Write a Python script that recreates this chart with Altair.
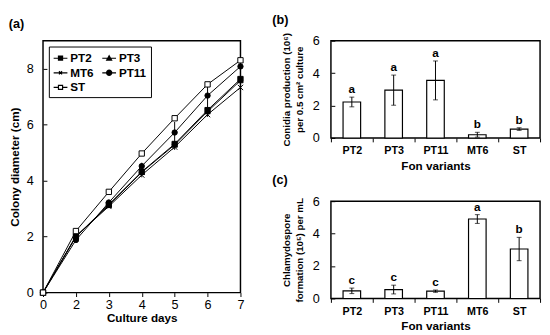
import altair as alt
import pandas as pd

FONT = "Liberation Sans"

# ---------------- Panel (a) data ----------------
days = [0, 2, 3, 4, 5, 6, 7]
series = ["PT2", "PT3", "MT6", "PT11", "ST"]
pt2 = [0, 2.00, 3.15, 4.32, 5.31, 6.52, 7.63]
pt3 = [0, 2.00, 3.12, 4.30, 5.28, 6.47, 7.58]
mt6 = [0, 2.02, 3.08, 4.20, 5.20, 6.36, 7.33]
pt11 = [0, 1.88, 3.22, 4.52, 5.72, 7.04, 8.08]
st = [0, 2.20, 3.60, 4.97, 6.23, 7.44, 8.30]
pt2_err = [0, 0.03, 0.05, 0.08, 0.10, 0.10, 0.08]
pt3_err = [0, 0.03, 0.05, 0.08, 0.12, 0.10, 0.08]
mt6_err = [0, 0.03, 0.05, 0.08, 0.10, 0.08, 0.08]
pt11_err = [0, 0.05, 0.08, 0.12, 0.38, 0.45, 0.10]
st_err = [0, 0.03, 0.05, 0.05, 0.05, 0.05, 0.05]

vals = {"PT2": pt2, "PT3": pt3, "MT6": mt6, "PT11": pt11, "ST": st}
errs = {"PT2": pt2_err, "PT3": pt3_err, "MT6": mt6_err, "PT11": pt11_err, "ST": st_err}
rows = []
for s in series:
    for d, v, e in zip(days, vals[s], errs[s]):
        rows.append({"day": d, "series": s, "value": v, "lo": v - e, "hi": v + e})
dfa = pd.DataFrame(rows)

# ---------------- Panels (b),(c) data ----------------
variants = ["PT2", "PT3", "PT11", "MT6", "ST"]
conidia = [2.22, 2.95, 3.55, 0.20, 0.55]
conidia_err = [0.30, 0.93, 1.20, 0.15, 0.08]
conidia_grp = ["a", "a", "a", "b", "b"]
chlamy = [0.47, 0.55, 0.45, 4.90, 3.05]
chlamy_err = [0.17, 0.27, 0.07, 0.27, 0.72]
chlamy_grp = ["c", "c", "c", "a", "b"]

dfb = pd.DataFrame({"variant": variants, "value": conidia, "err": conidia_err, "grp": conidia_grp})
dfb["lo"] = dfb["value"] - dfb["err"]
dfb["hi"] = dfb["value"] + dfb["err"]
dfc = pd.DataFrame({"variant": variants, "value": chlamy, "err": chlamy_err, "grp": chlamy_grp})
dfc["lo"] = dfc["value"] - dfc["err"]
dfc["hi"] = dfc["value"] + dfc["err"]

# ---------------- Panel (a) ----------------
xa_axis = alt.Axis(title="Culture days", labelAngle=0, labelFontSize=13, labelPadding=2,
                   tickSize=4, domain=False, titleFontSize=12, titleFontWeight="bold",
                   titlePadding=2)
xa_scale = alt.Scale(type="point", padding=0)
ya_scale = alt.Scale(domain=[0, 9], nice=False)
ya_axis = alt.Axis(title="Colony diameter (cm)", values=[0, 2, 4, 6, 8], labelFontSize=13,
                   tickSize=4, offset=-4, labelPadding=10, domain=False, grid=False,
                   labelOverlap=False,
                   titleFontSize=12, titleFontWeight="bold", titlePadding=5)


def xa(field="day:O"):
    return alt.X(field, scale=xa_scale, axis=xa_axis)


def ya(field):
    return alt.Y(field, scale=ya_scale, axis=ya_axis)


base_a = alt.Chart(dfa)
lines = base_a.mark_line(color="black", strokeWidth=1).encode(
    x=xa(), y=ya("value:Q"), detail="series:N")
ebars = base_a.mark_rule(color="black", strokeWidth=1).encode(
    x=xa(), y=ya("lo:Q"), y2="hi:Q")
x_path = "M-1,-1L1,1M-1,1L1,-1"
points = base_a.mark_point(filled=False, stroke="black", strokeWidth=1, opacity=1).encode(
    x=xa(), y=ya("value:Q"),
    shape=alt.Shape("series:N", scale=alt.Scale(domain=series,
                    range=["square", "triangle-up", x_path, "circle", "square"]), legend=None),
    fill=alt.Fill("series:N", scale=alt.Scale(domain=series,
                  range=["black", "black", "transparent", "black", "white"]), legend=None),
    size=alt.Size("series:N", scale=alt.Scale(domain=series, range=[30, 30, 22, 70, 60]), legend=None),
)
# legend glyphs: a short line with the marker (filled markers drawn as nested outlines)
leg_paths = [
    "M-1,0H1M-0.3,-0.3H0.3V0.3H-0.3ZM-0.16,-0.16H0.16V0.16H-0.16ZM-0.04,-0.04H0.04V0.04H-0.04Z",
    "M-1,0H1M0,-0.36L0.36,0.28H-0.36ZM0,-0.14L0.18,0.17H-0.18Z",
    "M-1,0H1M-0.22,-0.22L0.22,0.22M-0.22,0.22L0.22,-0.22",
    "M-1,0H1M0.38,0A0.38,0.38,0,1,1,-0.38,0A0.38,0.38,0,1,1,0.38,0Z"
    "M0.23,0A0.23,0.23,0,1,1,-0.23,0A0.23,0.23,0,1,1,0.23,0Z"
    "M0.09,0A0.09,0.09,0,1,1,-0.09,0A0.09,0.09,0,1,1,0.09,0Z",
    "M-1,0H-0.3M0.3,0H1M-0.3,-0.3H0.3V0.3H-0.3Z",
]
leg = alt.Legend(title=None, orient="top-left", columns=2, offset=6, direction="horizontal",
                 strokeColor="black", padding=4, labelFont=FONT, labelFontSize=12,
                 labelFontWeight="bold", symbolSize=200, symbolStrokeWidth=1.2,
                 symbolStrokeColor="black", symbolOpacity=1,
                 columnPadding=6, rowPadding=1, labelOffset=2, fillColor="white")
legend_layer = base_a.mark_point(filled=False, color="black", opacity=1, strokeWidth=1.2).encode(
    x=xa(), y=ya("value:Q"),
    shape=alt.Shape("series:N", scale=alt.Scale(domain=series, range=leg_paths), legend=leg),
).transform_filter("datum.day < 0")

panel_a = alt.layer(lines, ebars, points, legend_layer).resolve_scale(
    shape="independent", fill="independent", size="independent"
).properties(width=203, height=259,
             title=alt.TitleParams("(a)", anchor="start", frame="bounds", fontSize=13,
                                   fontWeight="bold", offset=10, font=FONT))


# ---------------- Panels (b),(c) ----------------
def bar_panel(df, ytitle, label, toff):
    xb_axis = alt.Axis(title="Fon variants", labelAngle=0, labelFontSize=11,
                       labelFontWeight="bold", tickBand="extent", tickSize=4,
                       domain=False, labelPadding=3, titleFontSize=12,
                       titleFontWeight="bold", titlePadding=5)
    xb_scale = alt.Scale(paddingInner=0, paddingOuter=0)
    yb_scale = alt.Scale(domain=[0, 6], nice=False, zero=True)
    yb_axis = alt.Axis(title=ytitle, values=[0, 2, 4, 6], labelFontSize=13, tickSize=4,
                       offset=-4, labelPadding=12, domain=False, grid=False,
                       labelOverlap=False, labelFlush=False,
                       titleFontSize=10, titleFontWeight="bold", titlePadding=8,
                       titleLineHeight=13)

    def xb():
        return alt.X("variant:N", sort=variants, scale=xb_scale, axis=xb_axis)

    def yb(field):
        return alt.Y(field, scale=yb_scale, axis=yb_axis)

    base = alt.Chart(df)
    bars = base.mark_bar(fill="white", stroke="black", strokeWidth=1.2,
                         width=alt.RelativeBandSize(0.42)).encode(
        x=xb(), y=yb("value:Q"))
    rule = base.mark_rule(color="black", strokeWidth=1).encode(
        x=xb(), y=yb("lo:Q"), y2="hi:Q")
    cap_hi = base.mark_tick(color="black", thickness=1, size=5).encode(
        x=xb(), y=yb("hi:Q"))
    cap_lo = base.mark_tick(color="black", thickness=1, size=5).encode(
        x=xb(), y=yb("lo:Q"))
    txt = base.mark_text(font=FONT, fontSize=12, fontWeight="bold", dy=-8,
                         baseline="middle").encode(
        x=xb(), y=yb("hi:Q"), text="grp:N")
    return alt.layer(bars, rule, cap_hi, cap_lo, txt).properties(
        width=215, height=100,
        title=alt.TitleParams(label, anchor="start", frame="bounds", fontSize=13,
                              fontWeight="bold", offset=toff, dx=-10, font=FONT))


panel_b = bar_panel(dfb, ["Conidia production (10\u2076)", "per 0.5 cm\u00b2 culture"], "(b)", 6)
panel_c = bar_panel(dfc, ["Chlamydospore", "formation (10\u2075) per mL"], "(c)", 9)

chart = alt.hconcat(
    panel_a,
    alt.vconcat(panel_b, panel_c, spacing=1),
    spacing=26,
).properties(padding=0).configure(font=FONT).configure_view(
    stroke="black", strokeWidth=1.5
).configure_axis(labelFont=FONT, titleFont=FONT, labelColor="black", titleColor="black",
                 tickColor="black")

chart.save("out.html", embed_options={"renderer": "svg", "actions": False})
